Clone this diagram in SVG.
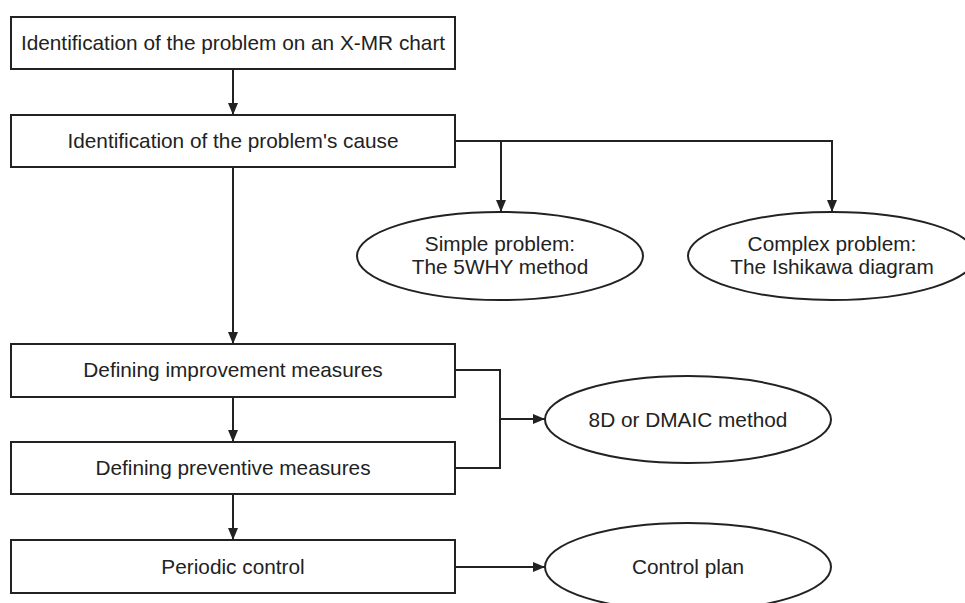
<svg xmlns="http://www.w3.org/2000/svg" width="965" height="603" viewBox="0 0 965 603">
<defs>
<marker id="arr" viewBox="0 0 12 10" refX="12" refY="5" markerWidth="12" markerHeight="10" markerUnits="userSpaceOnUse" orient="auto">
<path d="M0,0 L12,5 L0,10 Z" fill="#222"/>
</marker>
<style>
.box{fill:#fff;stroke:#222;stroke-width:2}
.ell{fill:#fff;stroke:#222;stroke-width:2}
.t{font-family:"Liberation Sans",Arial,sans-serif;font-size:20.8px;fill:#222;text-anchor:middle}
.c{fill:none;stroke:#222;stroke-width:2}
</style>
</defs>
<rect width="965" height="603" fill="#fff"/>
<g id="connectors">
<path class="c" d="M233,69 V115" marker-end="url(#arr)"/>
<path class="c" d="M455,141 H832 V212" marker-end="url(#arr)"/>
<path class="c" d="M501,141 V212" marker-end="url(#arr)"/>
<path class="c" d="M233,167 V344" marker-end="url(#arr)"/>
<path class="c" d="M233,397 V442" marker-end="url(#arr)"/>
<path class="c" d="M233,494 V540" marker-end="url(#arr)"/>
<path class="c" d="M455,370 H500 V468 H455"/>
<path class="c" d="M500,419 H545" marker-end="url(#arr)"/>
<path class="c" d="M455,567 H545" marker-end="url(#arr)"/>
</g>
<g id="n1">
<rect class="box" x="11" y="17" width="444" height="52"/>
<text class="t" x="233" y="50">Identification of the problem on an X-MR chart</text>
</g>
<g id="n2">
<rect class="box" x="11" y="115" width="444" height="52"/>
<text class="t" x="233" y="148">Identification of the problem's cause</text>
</g>
<g id="n3">
<ellipse class="ell" cx="500" cy="256" rx="143" ry="44"/>
<text class="t" x="500" y="251">Simple problem:</text>
<text class="t" x="500" y="274">The 5WHY method</text>
</g>
<g id="n4">
<ellipse class="ell" cx="832" cy="256" rx="144" ry="44"/>
<text class="t" x="832" y="251">Complex problem:</text>
<text class="t" x="832" y="274">The Ishikawa diagram</text>
</g>
<g id="n5">
<rect class="box" x="11" y="344" width="444" height="53"/>
<text class="t" x="233" y="377">Defining improvement measures</text>
</g>
<g id="n6">
<rect class="box" x="11" y="442" width="444" height="52"/>
<text class="t" x="233" y="475">Defining preventive measures</text>
</g>
<g id="n7">
<rect class="box" x="11" y="540" width="444" height="53"/>
<text class="t" x="233" y="574">Periodic control</text>
</g>
<g id="n8">
<ellipse class="ell" cx="688" cy="419.5" rx="143" ry="43.5"/>
<text class="t" x="688" y="427">8D or DMAIC method</text>
</g>
<g id="n9">
<ellipse class="ell" cx="688" cy="567" rx="143" ry="44"/>
<text class="t" x="688" y="574">Control plan</text>
</g>
</svg>
